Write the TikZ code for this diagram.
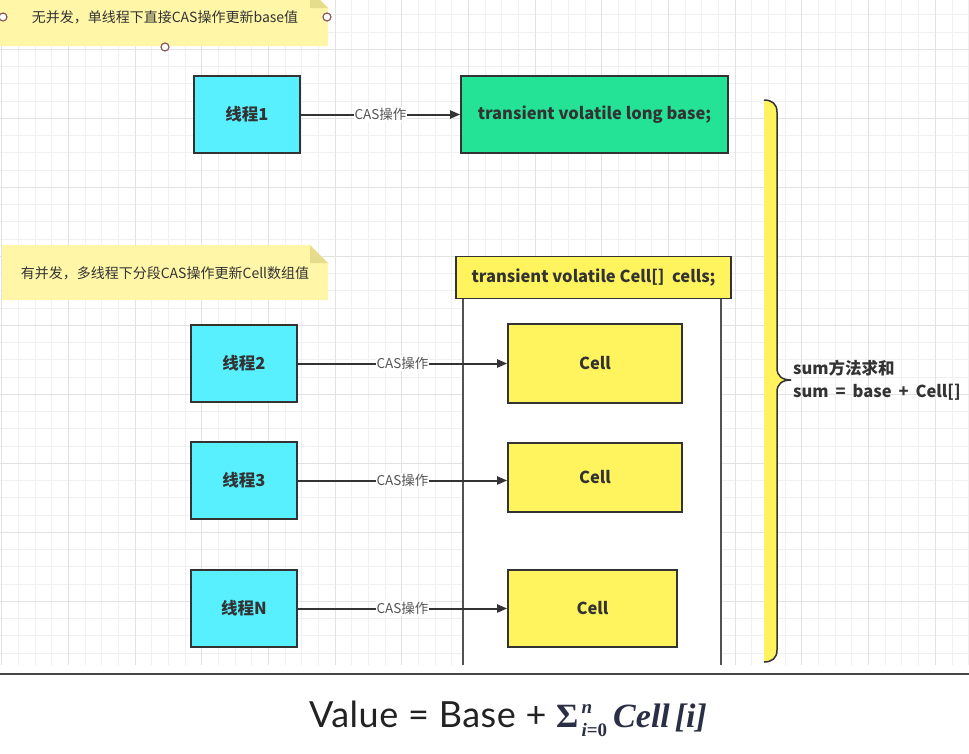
\documentclass[tikz,border=0pt]{standalone}
\usepackage[no-math]{fontspec}
\setmainfont{Noto Sans CJK SC}
\newfontfamily\formfont{Lato}
\newfontfamily\mathser{Liberation Serif}
\usetikzlibrary{arrows.meta}
\definecolor{cyanF}{HTML}{58F0FF}
\definecolor{greenF}{HTML}{24E396}
\definecolor{yellowF}{HTML}{FFF45E}
\definecolor{noteF}{HTML}{FFF6A8}
\definecolor{foldF}{HTML}{E6DC8C}
\definecolor{lineC}{HTML}{333333}
\definecolor{gridMinor}{HTML}{F0F0F0}
\definecolor{gridMajor}{HTML}{E2E2E2}
\definecolor{handleC}{HTML}{8B5A5A}
\definecolor{lblC}{HTML}{555555}
\definecolor{formC}{HTML}{222222}
\definecolor{mathC}{HTML}{2A2F45}
\tikzset{
  gridminor/.style={draw=gridMinor, line width=0.8pt},
  gridmajor/.style={draw=gridMajor, line width=1pt},
  box/.style={draw=lineC, line width=1.6pt, text=lineC, inner sep=0pt,
    font=\bfseries\fontsize{16.5}{19}\selectfont},
  threadbox/.style={box, fill=cyanF, minimum width=106pt, minimum height=77pt},
  cellbox/.style={box, fill=yellowF, minimum width=174pt},
  conn/.style={draw=lineC, line width=2pt, -{Triangle[length=10pt,width=8pt]}},
  lbl/.style={fill=white, inner sep=1pt, text=lblC, font=\fontsize{13.5}{15}\selectfont},
  notetext/.style={text=lineC, font=\fontsize{14}{16}\selectfont},
  handle/.style={draw=handleC, line width=1.2pt, fill=white},
}
\begin{document}
\begin{tikzpicture}[x=1pt,y=-1pt]
\useasboundingbox (0,0) rectangle (969,753);
\fill[white] (0,0) rectangle (969,753);
% grid
\foreach \k in {0,...,58} \draw[gridminor] ({1.7+16.67*\k},0) -- ({1.7+16.67*\k},665);
\foreach \j in {0,...,37} \draw[gridminor] (0,{14.8+17.25*\j}) -- (969,{14.8+17.25*\j});
\foreach \k in {0,4,...,56} \draw[gridmajor] ({1.7+16.67*\k},0) -- ({1.7+16.67*\k},665);
\foreach \j in {2,6,...,34} \draw[gridmajor] (0,{14.8+17.25*\j}) -- (969,{14.8+17.25*\j});

% note 1
\fill[noteF] (0,-10) -- (310,-10) -- (328,8) -- (328,46) -- (0,46) -- cycle;
\fill[foldF] (310,-10) -- (310,8) -- (328,8) -- cycle;
\node[notetext] (note1) at (165,17) {无并发，单线程下直接CAS操作更新base值};
\draw[handle] (3,17) circle (4);
\draw[handle] (327,17) circle (4);
\draw[handle] (165,47) circle (4);

% note 2
\fill[noteF] (2,245) -- (310,245) -- (328,263) -- (328,300) -- (2,300) -- cycle;
\fill[foldF] (310,245) -- (310,263) -- (328,263) -- cycle;
\node[notetext] (note2) at (165,273) {有并发，多线程下分段CAS操作更新Cell数组值};

% top row
\node[threadbox] (t1) at (247,114.5) {线程1};
\node[box, fill=greenF, minimum width=267pt, minimum height=77pt] (base) at (594.5,114.5) {transient volatile long base;};
\draw[conn] (t1) -- node[lbl]{CAS操作} (base);

% container
\fill[white] (463,298) rectangle (721,665);
\draw[lineC!85, line width=1.4pt] (463,298) -- (463,665);
\draw[lineC!85, line width=1.4pt] (721,298) -- (721,665);
\node[box, fill=yellowF, minimum width=275pt, minimum height=42pt] (cells) at (593.5,277.5) {transient volatile Cell[]\ \ cells;};

% cells
\node[cellbox, minimum height=79pt] (c1) at (595,363.5) {Cell};
\node[cellbox, minimum height=69pt] (c2) at (595,477.5) {Cell};
\node[cellbox, minimum width=169pt, minimum height=77pt] (c3) at (592.5,608.5) {Cell};

% threads
\node[threadbox] (t2) at (244,363.5) {线程2};
\node[threadbox] (t3) at (244,480.5) {线程3};
\node[threadbox] (tN) at (244,608.5) {线程N};

\draw[conn] (t2.east) -- node[lbl]{CAS操作} (t2.east -| c1.west);
\draw[conn] (t3.east) -- node[lbl]{CAS操作} (t3.east -| c2.west);
\draw[conn] (tN.east) -- node[lbl]{CAS操作} (tN.east -| c3.west);

% brace
\fill[yellowF] (764,100) .. controls (772,100) and (777,104) .. (777,112) -- (777,368)
  .. controls (777,376) and (782,380) .. (791,380)
  .. controls (782,380) and (777,384) .. (777,392) -- (777,650)
  .. controls (777,658) and (772,662) .. (764,662) -- cycle;
\draw[lineC, line width=1.5pt] (764,100) .. controls (772,100) and (777,104) .. (777,112) -- (777,368)
  .. controls (777,376) and (782,380) .. (791,380)
  .. controls (782,380) and (777,384) .. (777,392) -- (777,650)
  .. controls (777,658) and (772,662) .. (764,662);
\coordinate (tip) at (791,380);
\node[anchor=west, align=left, text=lineC, inner sep=0pt, font=\bfseries\fontsize{16.5}{23}\selectfont] (sumtxt) at ([xshift=2pt]tip) {sum方法求和\\sum\hspace{7pt}=\hspace{7pt}base\hspace{7pt}+\hspace{7pt}Cell[]};

% separator and formula
\draw[draw=lineC!90, line width=2pt] (0,674) -- (969,674);
\node[text=formC, font=\fontsize{36}{42}\selectfont, inner sep=0pt] (formula) at (508,719)
  {{\formfont\addfontfeature{LetterSpace=1.5}Value = Base + }{\color{mathC}\mathser\bfseries\fontsize{34}{38}\selectfont Σ\rlap{\raisebox{0.42em}{\fontsize{19}{19}\selectfont\itshape\,n}}\raisebox{-0.25em}{\fontsize{19}{19}\selectfont\,\itshape i\upshape =0}\hspace{6pt}\itshape Cell\hspace{5pt}[i]}};
\end{tikzpicture}
\end{document}
